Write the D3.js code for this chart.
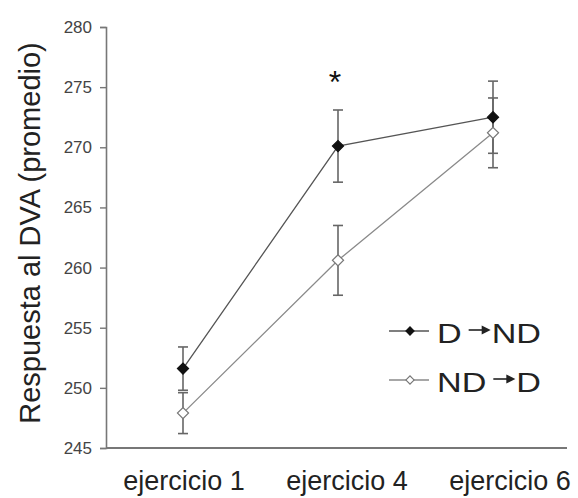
<!DOCTYPE html>
<html><head><meta charset="utf-8">
<script src="https://cdn.jsdelivr.net/npm/d3@7"></script>
<style>body{margin:0;background:#fff}svg{display:block}text{font-family:"Liberation Sans",Arial,sans-serif}</style>
</head><body><svg id="c" width="578" height="498"></svg>
<script>
const categories = ["ejercicio 1", "ejercicio 4", "ejercicio 6"];
const seriesNames = ["D→ND", "ND→D"];
const legendFrom = ["D", "ND"];
const legendTo = ["ND", "D"];
const dnd = [251.6, 270.1, 272.5];
const dndErr = [1.8, 3.0, 3.0];
const ndd = [247.9, 260.6, 271.2];
const nddErr = [1.7, 2.9, 2.9];
const yTicks = [245, 250, 255, 260, 265, 270, 275, 280];
const sigMark = ["", "*", ""];

const svg = d3.select("#c");
const x = d3.scalePoint().domain(categories).range([183, 493]);
const xLab = d3.scalePoint().domain(categories).range([184, 510]);
const y = d3.scaleLinear().domain([245, 280]).range([448, 27]);

// y axis
const ya = svg.append("g").attr("transform", "translate(106,0)")
  .call(d3.axisLeft(y).tickValues(yTicks).tickSize(6).tickPadding(8));
ya.select(".domain").attr("stroke", "#777").attr("stroke-width", 1.6);
ya.selectAll(".tick line").attr("stroke", "#777").attr("stroke-width", 1.4);
ya.selectAll(".tick text").attr("font-size", 17).attr("fill", "#444")
  .attr("font-family", "Liberation Sans, Arial, sans-serif");

// x axis line
svg.append("line").attr("x1", 106).attr("x2", 567).attr("y1", y(245)).attr("y2", y(245))
  .attr("stroke", "#777").attr("stroke-width", 2.2);
svg.selectAll(".xl").data(categories).enter().append("text")
  .attr("x", d => xLab(d)).attr("y", 490).attr("text-anchor", "middle")
  .attr("font-size", 27).attr("fill", "#222").text(d => d);

// y label
svg.append("text").attr("transform", "translate(40,233) rotate(-90)")
  .attr("text-anchor", "middle").attr("font-size", 29).attr("fill", "#222")
  .text("Respuesta al DVA (promedio)");

const series = [
  {name: seriesNames[0], v: dnd, e: dndErr, fill: "#111", stroke: "#111", line: "#555"},
  {name: seriesNames[1], v: ndd, e: nddErr, fill: "#fff", stroke: "#777", line: "#8a8a8a"}
];
const line = d3.line().x((d, i) => x(categories[i])).y(d => y(d));
const marker = d3.symbol().type(d3.symbolSquare).size(62);
const legMarker = d3.symbol().type(d3.symbolSquare).size(34);

// error bars
series.forEach(s => {
  const g = svg.append("g");
  s.v.forEach((v, i) => {
    const cx = x(categories[i]);
    g.append("line").attr("x1", cx).attr("x2", cx).attr("y1", y(v - s.e[i])).attr("y2", y(v + s.e[i]))
      .attr("stroke", "#666").attr("stroke-width", 1.6);
    [v - s.e[i], v + s.e[i]].forEach(b => g.append("line").attr("x1", cx - 5).attr("x2", cx + 5)
      .attr("y1", y(b)).attr("y2", y(b)).attr("stroke", "#666").attr("stroke-width", 1.6));
  });
});
// lines
series.slice().reverse().forEach(s => {
  svg.append("path").attr("d", line(s.v)).attr("fill", "none").attr("stroke", s.line).attr("stroke-width", 1.3);
});
// markers
series.slice().reverse().forEach(s => {
  svg.selectAll(null).data(s.v).enter().append("path").attr("d", marker)
    .attr("transform", (d, i) => `translate(${x(categories[i])},${y(d)}) rotate(45)`)
    .attr("fill", s.fill).attr("stroke", s.stroke).attr("stroke-width", 1.2);
});
// significance
svg.selectAll(".sig").data(sigMark).enter().append("text")
  .attr("x", (d, i) => x(categories[i]) - 3).attr("y", 93).attr("text-anchor", "middle")
  .attr("font-size", 32).attr("fill", "#111").text(d => d);

// legend
const legY = [331, 380];
const sx = 1.22;
series.forEach((s, k) => {
  const g = svg.append("g").attr("transform", `translate(0,${legY[k]})`);
  g.append("line").attr("x1", 389).attr("x2", 429).attr("stroke", s.line).attr("stroke-width", 1.3);
  g.append("path").attr("d", legMarker).attr("transform", "translate(410,0) rotate(45)")
    .attr("fill", s.fill).attr("stroke", s.stroke).attr("stroke-width", 1.1);
  const t1 = g.append("text").attr("transform", `translate(437,12) scale(${sx},1)`)
    .attr("font-size", 28).attr("fill", "#222").text(legendFrom[k]);
  const w1 = t1.node().getComputedTextLength() * sx;
  const ax0 = 437 + w1 + 7, ax1 = ax0 + 22;
  const ay = -1;
  g.append("line").attr("x1", ax0).attr("x2", ax1 - 6).attr("y1", ay).attr("y2", ay).attr("stroke", "#222").attr("stroke-width", 1.6);
  g.append("path").attr("d", `M${ax1},${ay}L${ax1 - 9},${ay - 4.5}L${ax1 - 9},${ay + 4.5}Z`).attr("fill", "#222");
  g.append("text").attr("transform", `translate(${ax1 + 1},12) scale(${sx},1)`)
    .attr("font-size", 28).attr("fill", "#222").text(legendTo[k]);
});
</script></body></html>
